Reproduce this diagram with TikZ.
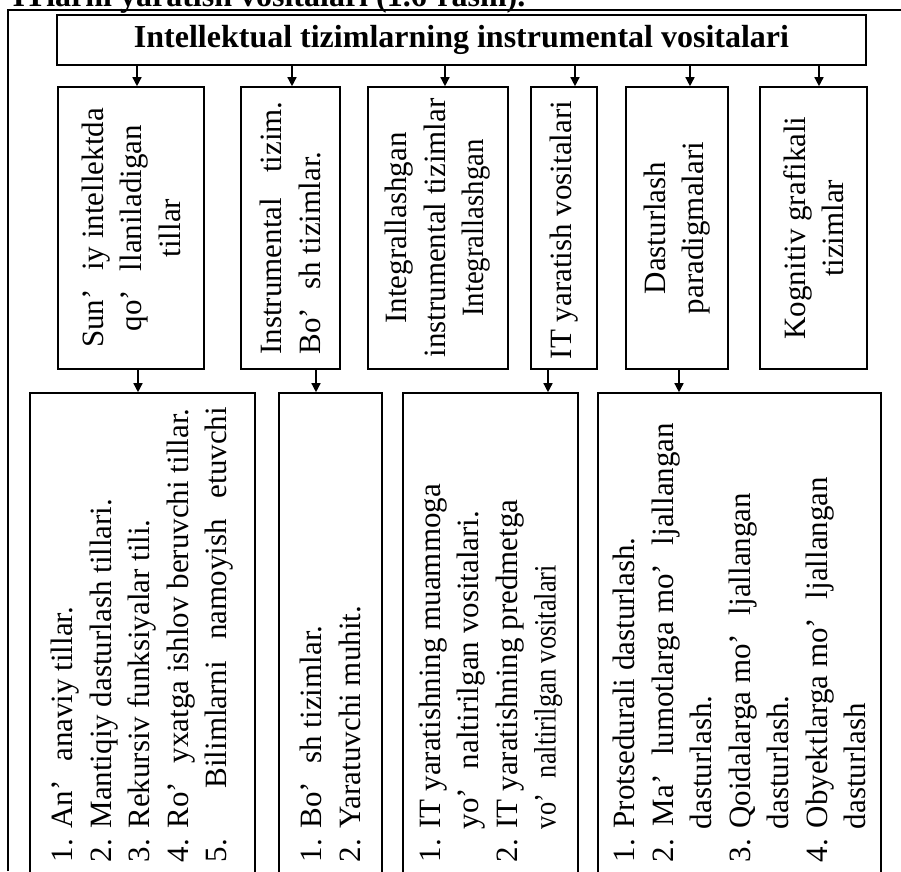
\documentclass[tikz,border=0pt]{standalone}
\usepackage{graphicx}
\usepackage{fontspec}
\setmainfont{Liberation Serif}
\usetikzlibrary{arrows.meta}
\newcommand{\uzap}{’\hspace{0.6em}}
\newcommand{\vtext}[2]{\rotatebox{90}{\parbox{#1}{#2}}}

\begin{document}
\begin{tikzpicture}[x=1pt, y=-1pt,
    box/.style={draw, line width=1.6pt, inner sep=0pt},
    arr/.style={-{Triangle[width=9pt,length=9pt]}, line width=1.4pt},
    every node/.style={font=\fontsize{31}{38.5}\selectfont}]
  \clip (0,0) rectangle (901,871);
  \node[anchor=base west, font=\fontsize{32}{38}\selectfont\bfseries] (head) at (9,6.5) {ITlarni yaratish vositalari (1.6-rasm).};
  \draw[line width=1.5pt] (8,871) -- (8,10) -- (901,10);

  \node[box, minimum width=809pt, minimum height=50pt, font=\fontsize{32}{38}\selectfont\bfseries] (title) at (461.5,40) {Intellektual tizimlarning instrumental vositalari};

  \node[box, minimum width=146pt, minimum height=282pt] (t1) at (131,228) {\vtext{250pt}{\centering Sun\uzap iy intellektda\\ qo\uzap llaniladigan\\ tillar}};
  \node[box, minimum width=99pt, minimum height=282pt] (t2) at (290.5,228) {\vtext{253pt}{\makebox[\linewidth][s]{Instrumental tizim.}\\ Bo\uzap sh tizimlar.}};
  \node[box, minimum width=140pt, minimum height=282pt] (t3) at (438,228) {\vtext{260pt}{\centering Integrallashgan\\ instrumental tizimlar\\ \scalebox{0.93}[1]{Integrallashgan}}};
  \node[box, minimum width=66pt, minimum height=282pt] (t4) at (564,228) {\vtext{262pt}{IT yaratish vositalari}};
  \node[box, minimum width=102pt, minimum height=282pt] (t5) at (677,228) {\vtext{200pt}{\centering Dasturlash\\ paradigmalari}};
  \node[box, minimum width=107pt, minimum height=282pt] (t6) at (813.5,228) {\vtext{240pt}{\centering Kognitiv grafikali\\ tizimlar}};

  \node[box, minimum width=225pt, minimum height=483pt] (b1) at (142.5,634.5) {\vtext{455pt}{\raggedright 1. An\uzap anaviy tillar.\\ 2. Mantiqiy dasturlash tillari.\\ 3. Rekursiv funksiyalar tili.\\ 4. Ro\uzap yxatga ishlov beruvchi tillar.\\ \makebox[\linewidth][s]{5. Bilimlarni namoyish etuvchi}}};
  \node[box, minimum width=103pt, minimum height=483pt] (b2) at (330.5,634.5) {\vtext{455pt}{\raggedright 1. Bo\uzap sh tizimlar.\\ 2. Yaratuvchi muhit.}};
  \node[box, minimum width=175pt, minimum height=483pt] (b3) at (490.5,634.5) {\vtext{455pt}{\raggedright 1. IT yaratishning muammoga\\ \hspace*{33pt}yo\uzap naltirilgan vositalari.\\ 2. IT yaratishning predmetga\\ \hspace*{33pt}\scalebox{0.85}[1]{vo\uzap naltirilgan vositalari}}};
  \node[box, minimum width=283pt, minimum height=499pt] (b4) at (739.5,642.5) {\vtext{439pt}{\raggedright 1. Protsedurali dasturlash.\\ \makebox[439pt][s]{2. Ma\uzap lumotlarga mo\uzap ljallangan}\\ \hspace*{33pt}dasturlash.\\ \makebox[369pt][s]{3. Qoidalarga mo\uzap ljallangan}\\ \hspace*{33pt}dasturlash.\\ \makebox[385pt][s]{4. Obyektlarga mo\uzap ljallangan}\\ \hspace*{33pt}dasturlash}};

  \draw[arr] (137,0 |- title.south) -- (137,0 |- t1.north);
  \draw[arr] (292,0 |- title.south) -- (292,0 |- t2.north);
  \draw[arr] (445,0 |- title.south) -- (445,0 |- t3.north);
  \draw[arr] (575,0 |- title.south) -- (575,0 |- t4.north);
  \draw[arr] (690,0 |- title.south) -- (690,0 |- t5.north);
  \draw[arr] (819,0 |- title.south) -- (819,0 |- t6.north);

  \draw[arr] (138,0 |- t1.south) -- (138,0 |- b1.north);
  \draw[arr] (316,0 |- t2.south) -- (316,0 |- b2.north);
  \draw[arr] (548,0 |- t4.south) -- (548,0 |- b3.north);
  \draw[arr] (679,0 |- t5.south) -- (679,0 |- b4.north);
\end{tikzpicture}
\end{document}
